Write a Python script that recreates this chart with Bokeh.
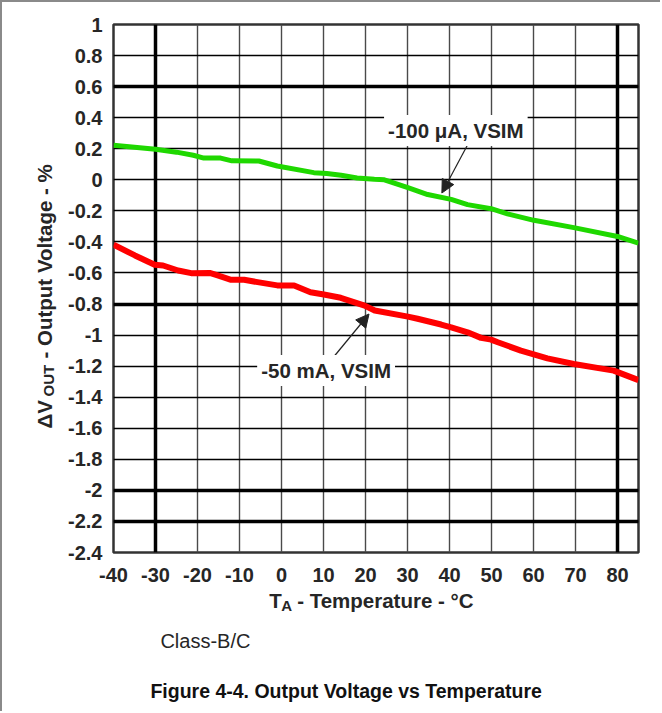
import math
from bokeh.plotting import figure
from bokeh.models import (Range1d, FixedTicker, Grid, CustomJSTickFormatter, Label,
                          Arrow, NormalHead, ColumnDataSource)
from bokeh.embed import file_html
from bokeh.resources import INLINE

# ---------------- data ----------------
x_ticks = [-40, -30, -20, -10, 0, 10, 20, 30, 40, 50, 60, 70, 80]
y_ticks = [1, 0.8, 0.6, 0.4, 0.2, 0, -0.2, -0.4, -0.6, -0.8, -1, -1.2, -1.4,
           -1.6, -1.8, -2, -2.2, -2.4]
heavy_x = [-30, 80]
heavy_y = [0.6, -0.8, -2, -2.2]

temp_100uA = [-40, -35, -30, -25, -21, -18.5, -14.5, -11.8, -5.4, -1, 7.7, 10.8,
              14.2, 18, 22.1, 24.5, 30.1, 34.8, 40.4, 44.3, 49.9, 53.8, 60.1,
              69.6, 80, 85]
dv_100uA = [0.223, 0.21, 0.197, 0.178, 0.158, 0.140, 0.140, 0.122, 0.121, 0.089,
            0.046, 0.040, 0.029, 0.012, 0.003, 0.0, -0.05, -0.095, -0.126, -0.16,
            -0.186, -0.219, -0.261, -0.308, -0.365, -0.408]

temp_50mA = [-40, -34.9, -30.2, -28.2, -24.6, -21.5, -17.1, -15.2, -12, -8.9,
             -5.7, -1, 3, 6.9, 10.1, 14.1, 19.8, 22.2, 30.1, 32.4, 38.0, 40.4,
             44.3, 47.5, 49.9, 51.5, 57, 63.3, 69.6, 79.1, 85]
dv_50mA = [-0.418, -0.487, -0.547, -0.552, -0.584, -0.601, -0.600, -0.616, -0.644,
           -0.644, -0.659, -0.680, -0.680, -0.724, -0.739, -0.760, -0.810, -0.842,
           -0.881, -0.895, -0.932, -0.950, -0.982, -1.018, -1.029, -1.046, -1.100,
           -1.150, -1.186, -1.229, -1.29]

label_100uA = "-100 \u03bcA, VSIM"
label_50mA = "-50 mA, VSIM"
x_title = ["T", "A", "- Temperature - \u00b0C"]
y_title = ["\u0394V", "OUT", "- Output Voltage - %"]
note_text = "Class-B/C"
caption_text = "Figure 4-4. Output Voltage vs Temperature"

# ---------------- layout geometry (page pixels) ----------------
W, H = 662, 713
PAGE_EDGE = 2                                 # grey page border (CSS) on top/left
FL, FR, FT, FB = 112, 638, 24, 552            # frame edges in page pixels
XMIN, XMAX, YMIN, YMAX = -40, 85, -2.4, 1

def px2x(px):
    return XMIN + (px - FL) * (XMAX - XMIN) / (FR - FL)

def px2y(py):
    return YMAX - (py - FT) * (YMAX - YMIN) / (FB - FT)

FONT = "Liberation Sans"
TXT = "#262626"

p = figure(width=W - PAGE_EDGE, height=H - PAGE_EDGE, output_backend="svg",
           toolbar_location=None,
           x_range=Range1d(XMIN, XMAX), y_range=Range1d(YMIN, YMAX),
           min_border_left=FL - PAGE_EDGE, min_border_right=W - FR,
           min_border_top=FT - PAGE_EDGE, min_border_bottom=H - FB)
p.styles = {"border-top": "2px solid #8a8a8a", "border-left": "2px solid #8a8a8a"}
p.background_fill_color = "white"
p.border_fill_color = "white"
p.outline_line_color = "#333333"
p.outline_line_width = 2.5

fmt = CustomJSTickFormatter(code="return (Math.round(tick*10)/10).toString();")
for ax, ticks, standoff in ((p.xaxis[0], x_ticks, 9), (p.yaxis[0], y_ticks, 5)):
    ax.ticker = FixedTicker(ticks=ticks)
    ax.formatter = fmt
    ax.major_tick_line_color = None
    ax.minor_tick_line_color = None
    ax.axis_line_color = None
    ax.major_label_text_font = FONT
    ax.major_label_text_font_style = "bold"
    ax.major_label_text_font_size = "20px"
    ax.major_label_text_color = TXT
    ax.major_label_standoff = standoff

p.xgrid.ticker = FixedTicker(ticks=x_ticks)
p.xgrid.grid_line_color = "#4a4a4a"
p.xgrid.grid_line_width = 1.4
p.ygrid.ticker = FixedTicker(ticks=y_ticks)
p.ygrid.grid_line_color = "#000000"
p.ygrid.grid_line_width = 1.4

p.add_layout(Grid(dimension=0, ticker=FixedTicker(ticks=heavy_x),
                  grid_line_color="black", grid_line_width=3.5))
p.add_layout(Grid(dimension=1, ticker=FixedTicker(ticks=heavy_y),
                  grid_line_color="black", grid_line_width=3.5))

src_g = ColumnDataSource(dict(x=temp_100uA, y=dv_100uA))
src_r = ColumnDataSource(dict(x=temp_50mA, y=dv_50mA))
p.line("x", "y", source=src_g, line_color="#1fd800", line_width=5, line_join="round")
p.line("x", "y", source=src_r, line_color="#ff0000", line_width=6, line_join="round")

# annotations with arrows (inside the frame)
arrow_head = dict(size=13, fill_color="#222222", line_color="#222222")
p.add_layout(Arrow(end=NormalHead(**arrow_head), line_color="#222222", line_width=1.2,
                   x_start=px2x(468), y_start=px2y(142), x_end=px2x(441), y_end=px2y(192.5)))
p.add_layout(Arrow(end=NormalHead(**arrow_head), line_color="#222222", line_width=1.2,
                   x_start=px2x(328), y_start=px2y(362), x_end=px2x(368), y_end=px2y(313.5)))

common = dict(text_font=FONT, text_font_style="bold", text_color=TXT)
p.add_layout(Label(x=px2x(455), y=px2y(130), text=label_100uA, text_align="center",
                   text_baseline="middle", text_font_size="20.5px",
                   background_fill_color="white", padding=4, **common))
p.add_layout(Label(x=px2x(325), y=px2y(370), text=label_50mA, text_align="center",
                   text_baseline="middle", text_font_size="20.5px",
                   background_fill_color="white", padding=4, **common))

# texts outside the frame go into side panels (not clipped there)
DY = 7  # empirical baseline correction
p.add_layout(Label(x=px2x(268), y=px2y(607 - DY), text=x_title[0], text_align="left",
                   text_baseline="alphabetic", text_font_size="20.5px", **common), "below")
p.add_layout(Label(x=px2x(280), y=px2y(612 - DY), text=x_title[1], text_align="left",
                   text_baseline="alphabetic", text_font_size="15px", **common), "below")
p.add_layout(Label(x=px2x(296), y=px2y(607 - DY), text=x_title[2], text_align="left",
                   text_baseline="alphabetic", text_font_size="20.5px", **common), "below")

rot = math.pi / 2
p.add_layout(Label(x=px2x(50 - DY), y=px2y(428), text=y_title[0], angle=rot, text_align="left",
                   text_baseline="alphabetic", text_font_size="20.5px", **common), "left")
p.add_layout(Label(x=px2x(54 - DY), y=px2y(396), text=y_title[1], angle=rot, text_align="left",
                   text_baseline="alphabetic", text_font_size="15px", **common), "left")
p.add_layout(Label(x=px2x(50 - DY), y=px2y(358), text=y_title[2], angle=rot, text_align="left",
                   text_baseline="alphabetic", text_font_size="20.5px", **common), "left")

p.add_layout(Label(x=px2x(159), y=px2y(647 - DY), text=note_text, text_align="left",
                   text_baseline="alphabetic", text_font=FONT, text_font_size="20px",
                   text_color=TXT), "below")
p.add_layout(Label(x=px2x(149), y=px2y(697 - DY), text=caption_text, text_align="left",
                   text_baseline="alphabetic", text_font=FONT, text_font_style="bold",
                   text_font_size="19.5px", text_color="#111111"), "below")

open("out.html", "w").write(file_html(p, INLINE))
